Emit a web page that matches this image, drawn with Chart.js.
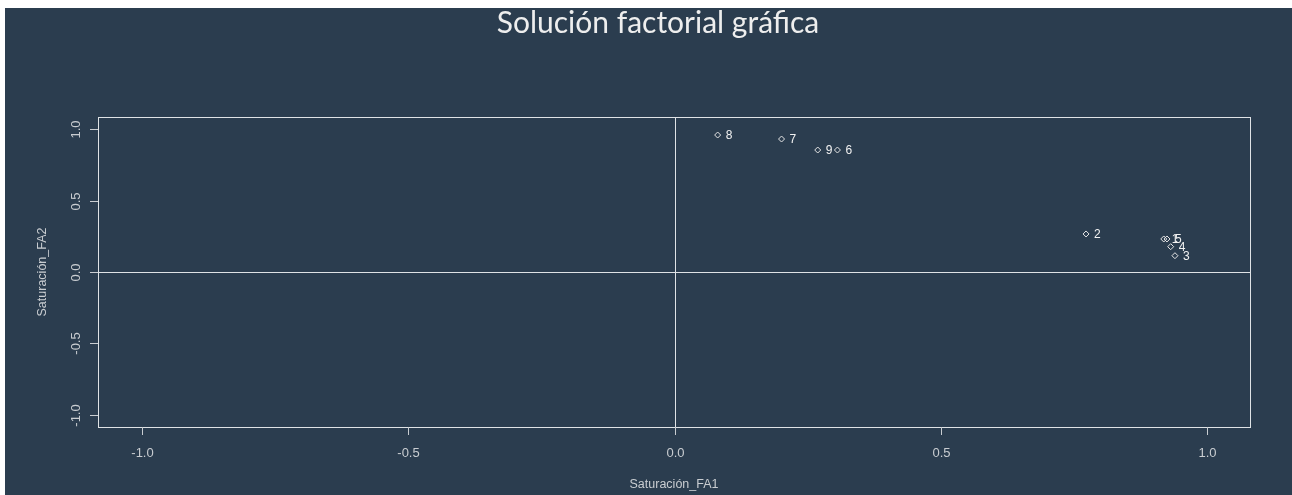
<!DOCTYPE html>
<html>
<head>
<meta charset="utf-8">
<script src="https://cdn.jsdelivr.net/npm/chart.js@4/dist/chart.umd.min.js"></script>
<style>
  html, body { margin: 0; padding: 0; background: #ffffff; width: 1292px; height: 495px; overflow: hidden; }
  #wrap { position: absolute; left: 5px; top: 8px; width: 1287px; height: 487px; background: #2B3D4F; }
  canvas { display: block; }
</style>
</head>
<body>
<div id="wrap"><canvas id="c"></canvas></div>
<script>
// ---- Data ----
const pointLabels = ['1', '2', '3', '4', '5', '6', '7', '8', '9'];
const fa1 = [0.919, 0.773, 0.940, 0.932, 0.925, 0.306, 0.201, 0.081, 0.269];
const fa2 = [0.231, 0.266, 0.114, 0.177, 0.231, 0.853, 0.930, 0.958, 0.853];
const xTicks = [-1.0, -0.5, 0.0, 0.5, 1.0];
const yTicks = [-1.0, -0.5, 0.0, 0.5, 1.0];
const xTickLabels = ['-1.0', '-0.5', '0.0', '0.5', '1.0'];
const yTickLabels = ['-1.0', '-0.5', '0.0', '0.5', '1.0'];
const titleText = 'Solución factorial gráfica';
const xTitle = 'Saturación_FA1';
const yTitle = 'Saturación_FA2';

const points = fa1.map((v, i) => ({ x: v, y: fa2[i] }));

const FG = '#dfe3e6';
const TICKCOL = '#c9cdd1';

const rStylePlugin = {
  id: 'rstyle',
  beforeDatasetsDraw(chart) {
    const { ctx, chartArea: a, scales: { x, y } } = chart;
    ctx.save();
    // zero reference lines
    ctx.strokeStyle = FG;
    ctx.lineWidth = 1;
    const x0 = Math.round(x.getPixelForValue(0)) + 0.5;
    const y0 = Math.round(y.getPixelForValue(0)) + 0.5;
    ctx.beginPath();
    ctx.moveTo(a.left, y0); ctx.lineTo(a.right, y0);
    ctx.moveTo(x0, a.top); ctx.lineTo(x0, a.bottom);
    ctx.stroke();
    ctx.restore();
  },
  afterDatasetsDraw(chart) {
    const { ctx, chartArea: a, scales: { x, y } } = chart;
    ctx.save();
    // box
    ctx.strokeStyle = FG;
    ctx.lineWidth = 1;
    ctx.strokeRect(Math.round(a.left) + 0.5, Math.round(a.top) + 0.5,
                   Math.round(a.right - a.left), Math.round(a.bottom - a.top));
    // x ticks
    ctx.strokeStyle = TICKCOL;
    ctx.fillStyle = TICKCOL;
    ctx.font = '13px "Liberation Sans", Arial, sans-serif';
    ctx.textAlign = 'center';
    ctx.textBaseline = 'middle';
    xTicks.forEach((v, i) => {
      const px = Math.round(x.getPixelForValue(v)) + 0.5;
      ctx.beginPath();
      ctx.moveTo(px, a.bottom); ctx.lineTo(px, a.bottom + 8);
      ctx.stroke();
      ctx.fillText(xTickLabels[i], px, a.bottom + 26);
    });
    // y ticks
    yTicks.forEach((v, i) => {
      const py = Math.round(y.getPixelForValue(v)) + 0.5;
      ctx.beginPath();
      ctx.moveTo(a.left, py); ctx.lineTo(a.left - 8, py);
      ctx.stroke();
      ctx.save();
      ctx.translate(a.left - 22, py);
      ctx.rotate(-Math.PI / 2);
      ctx.fillText(yTickLabels[i], 0, 0);
      ctx.restore();
    });
    // axis titles
    ctx.font = '12.5px "Liberation Sans", Arial, sans-serif';
    ctx.fillText(xTitle, (a.left + a.right) / 2, a.bottom + 58);
    ctx.save();
    ctx.translate(a.left - 55, (a.top + a.bottom) / 2);
    ctx.rotate(-Math.PI / 2);
    ctx.fillText(yTitle, 0, 0);
    ctx.restore();
    // point labels
    ctx.fillStyle = '#f2f2f2';
    ctx.font = '12px "Liberation Sans", Arial, sans-serif';
    ctx.textAlign = 'left';
    points.forEach((p, i) => {
      const px = x.getPixelForValue(p.x);
      const py = y.getPixelForValue(p.y);
      ctx.fillText(pointLabels[i], px + 8, py + 1);
    });
    // title
    ctx.fillStyle = '#eeeeee';
    ctx.font = '30px Lato, "Open Sans", sans-serif';
    ctx.textAlign = 'center';
    ctx.textBaseline = 'alphabetic';
    ctx.fillText(titleText, 653, 25);
    ctx.restore();
  }
};

new Chart(document.getElementById('c'), {
  type: 'scatter',
  data: {
    datasets: [{
      data: points,
      pointStyle: 'rectRot',
      pointRadius: 3,
      pointBorderWidth: 1,
      borderColor: '#e6e6e6',
      backgroundColor: 'rgba(0,0,0,0)',
      pointHoverRadius: 3
    }]
  },
  options: {
    responsive: true,
    maintainAspectRatio: false,
    animation: false,
    events: [],
    layout: { padding: { left: 93, top: 109, right: 42, bottom: 68 } },
    plugins: { legend: { display: false }, title: { display: false }, tooltip: { enabled: false } },
    scales: {
      x: { type: 'linear', min: -1.083, max: 1.081, display: false },
      y: { type: 'linear', min: -1.084, max: 1.084, display: false }
    }
  },
  plugins: [rStylePlugin]
});
</script>
</body>
</html>
